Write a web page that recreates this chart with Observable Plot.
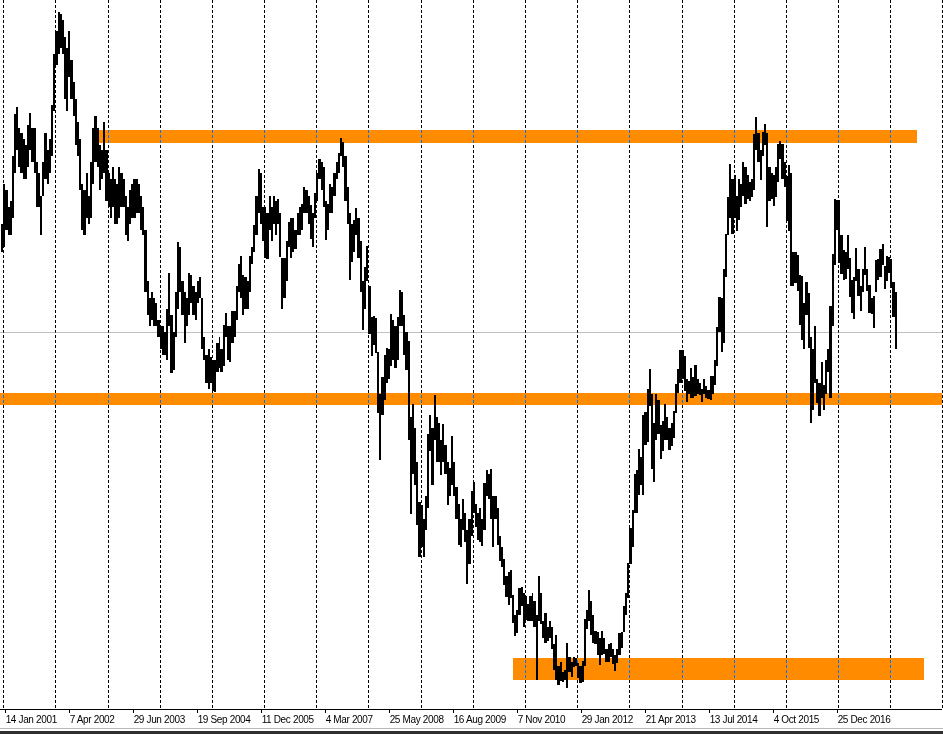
<!DOCTYPE html>
<html>
<head>
<meta charset="utf-8">
<script src="https://cdn.jsdelivr.net/npm/d3@7"></script>
<script src="https://cdn.jsdelivr.net/npm/@observablehq/plot@0.6"></script>
<style>
  html, body { margin: 0; padding: 0; background: #fff; overflow: hidden; }
  #chart svg { display: block; }
  #chart svg g[aria-label="x-axis tick label"] text { letter-spacing: -0.35px; }
  #bottom { width: 943px; height: 2px; border-top: 1px solid #b8b8b8; border-bottom: 3px solid #303030; }
</style>
</head>
<body>
<div id="chart"></div>
<div id="bottom"></div>
<script>
// USD/JPY, half-month bars (1st-15th, 16th-end), first bar = second half of Dec 2000
const lows = [
  114.0,
  // 2001
  114.5,116.0,115.5,115.5,117.0,121.0,123.0,121.5,121.0,120.5,120.5,121.5,123.0,122.0,121.0,118.0,118.0,115.5,119.0,120.5,120.0,121.0,122.5,126.5,
  // 2002
  130.5,131.5,132.0,131.5,127.5,126.5,129.5,127.5,126.0,123.5,122.5,119.5,116.0,115.5,117.0,116.5,117.0,120.0,122.0,121.5,119.5,120.5,121.0,118.5,
  // 2003
  118.0,117.0,118.0,116.5,116.5,117.0,118.0,118.0,115.5,115.0,116.5,117.0,117.0,117.5,117.5,116.0,115.5,110.5,108.5,107.5,108.0,107.5,107.5,106.5,
  // 2004
  105.5,105.0,105.0,104.5,107.5,103.4,103.6,106.5,109.0,110.5,108.5,106.0,107.5,108.5,109.5,108.5,108.0,109.5,110.0,105.5,104.5,102.5,102.0,102.5,
  // 2005
  101.8,101.7,103.5,103.8,103.5,104.0,106.5,104.5,104.3,106.0,106.5,108.0,110.5,110.0,108.5,109.0,109.0,110.5,113.0,114.0,115.5,117.5,116.5,115.0,
  // 2006
  113.5,113.4,116.0,115.0,116.5,115.5,116.5,113.6,109.0,110.0,111.5,114.5,113.5,114.0,114.3,115.5,115.5,116.0,117.5,117.5,116.5,115.2,114.5,117.0,
  // 2007
  118.5,120.5,119.5,118.0,115.1,116.0,117.5,117.5,119.0,120.5,121.0,122.5,121.5,118.5,116.5,111.6,113.2,114.0,115.5,113.5,110.5,107.2,109.0,111.5,
  // 2008
  106.8,104.9,105.8,105.1,99.8,95.7,99.7,101.0,102.5,102.8,104.0,104.5,103.8,104.5,107.5,107.5,105.0,103.6,97.5,90.9,94.5,93.5,90.0,87.1,
  // 2009
  88.0,87.1,89.5,91.5,96.5,93.5,97.5,95.5,95.5,94.4,95.5,94.5,91.7,92.5,93.5,92.5,90.5,88.2,88.0,89.5,88.5,84.8,86.5,89.0,
  // 2010
  91.0,89.8,88.6,88.5,88.1,89.5,92.5,92.3,90.5,88.0,90.5,88.2,86.8,86.3,84.7,83.6,82.9,83.5,81.3,80.2,80.4,82.0,82.8,81.0,
  // 2011
  81.6,81.5,81.5,81.5,81.0,76.3,81.5,81.2,80.0,79.6,79.7,80.0,79.0,77.2,76.3,75.9,76.2,76.1,76.3,75.6,77.0,76.6,77.4,77.5,
  // 2012
  76.5,76.0,76.1,77.5,80.8,81.5,80.3,79.6,79.5,78.5,77.6,78.5,78.6,77.9,77.9,78.3,77.7,77.1,77.8,78.5,79.1,80.5,82.0,83.5,
  // 2013
  86.5,88.0,91.0,91.0,92.6,93.5,92.6,97.0,97.3,100.5,94.9,93.8,97.5,98.0,95.8,96.5,97.5,97.5,96.6,96.9,97.6,99.8,101.6,102.5,
  // 2014
  102.8,101.8,100.8,101.5,101.2,101.2,101.3,101.5,101.4,100.8,101.5,101.2,101.1,101.0,101.5,102.3,104.0,107.0,105.2,106.0,111.8,115.5,117.0,115.6,
  // 2015
  117.0,115.9,116.9,118.0,119.0,118.3,118.7,118.5,118.9,119.5,123.0,122.0,120.4,122.5,123.5,116.2,118.5,118.7,118.1,118.9,120.2,122.2,120.5,119.8,
  // 2016
  116.8,115.9,111.0,111.0,111.3,110.6,107.6,106.3,105.5,108.5,105.6,99.0,100.1,102.5,100.7,99.6,101.2,100.1,101.5,103.5,101.2,107.5,112.9,116.0,
  // 2017
  113.1,112.1,111.6,111.7,112.5,110.1,108.7,108.1,111.5,110.2,108.8,110.5,112.0,110.6,108.7,108.6,107.3,110.5,111.6,111.8,112.9,110.8,111.5,112.2,
  // 2018
  110.9,108.3,105.5
];
const highs = [
  116.5,
  // 2001
  120.0,119.5,118.0,118.5,122.5,126.2,126.8,125.0,124.5,124.0,123.5,125.2,126.3,125.0,125.0,122.0,121.0,119.0,122.0,124.5,123.0,124.0,127.0,131.5,
  // 2002
  133.5,135.2,135.0,134.5,133.0,132.0,133.5,131.0,129.0,127.5,125.5,124.0,120.0,119.5,121.0,119.0,122.0,125.0,126.0,125.0,123.5,123.0,125.5,123.0,
  // 2003
  121.0,120.5,121.5,120.5,120.0,121.5,121.0,120.5,119.0,118.0,119.5,120.0,120.5,120.5,120.0,119.0,118.0,116.0,111.5,110.0,110.5,110.0,109.5,108.0,
  // 2004
  107.5,107.5,107.0,109.0,112.2,108.5,107.0,110.5,114.9,114.5,111.5,110.5,110.0,112.2,112.0,111.0,110.5,111.5,111.8,110.0,106.5,105.0,105.5,104.8,
  // 2005
  104.5,104.5,106.0,106.5,105.5,107.6,108.7,107.5,107.5,108.8,108.8,111.0,113.0,113.7,112.0,111.8,111.5,113.7,114.5,116.4,119.0,121.4,121.0,118.0,
  // 2006
  118.0,117.5,119.0,118.0,119.0,118.5,118.7,117.5,113.5,113.5,115.0,116.7,117.0,117.0,116.0,117.5,118.0,118.3,119.8,119.5,119.0,118.2,117.5,119.2,
  // 2007
  121.0,122.2,122.0,121.5,118.5,118.3,120.0,119.8,121.0,122.0,122.8,124.1,123.7,122.5,119.8,117.5,116.5,116.9,117.9,117.0,115.0,111.5,112.7,114.6,
  // 2008
  111.0,108.3,108.4,108.2,105.2,101.5,103.0,105.0,105.6,105.5,108.6,108.0,107.5,108.3,110.7,110.5,108.5,107.0,106.2,99.5,100.6,98.5,95.5,92.0,
  // 2009
  91.7,90.5,92.5,98.0,99.7,98.5,101.4,99.5,99.0,97.5,98.9,97.0,95.5,95.0,97.8,95.5,93.3,91.8,90.5,92.3,91.0,89.5,90.5,93.0,
  // 2010
  93.8,91.8,91.0,91.5,90.5,93.7,94.8,94.5,94.9,92.5,92.5,91.5,89.0,88.0,87.0,85.5,85.8,86.0,83.8,82.0,82.5,84.4,84.5,84.0,
  // 2011
  83.7,83.0,83.7,84.0,83.3,82.0,85.5,84.0,81.5,82.2,81.0,81.5,81.0,79.5,80.3,77.5,77.9,77.0,77.2,79.6,78.3,77.9,78.3,78.2,
  // 2012
  77.8,77.5,78.0,81.7,82.5,84.2,83.3,82.0,80.6,80.5,80.0,80.6,80.0,79.0,79.5,79.6,79.0,78.5,79.0,80.4,80.5,82.8,84.0,86.6,
  // 2013
  89.7,91.3,94.5,94.8,96.7,96.0,99.7,99.9,102.0,103.7,101.5,99.0,101.5,101.0,98.8,99.1,100.6,99.5,98.5,99.0,100.0,102.4,103.7,105.4,
  // 2014
  105.4,104.9,102.8,102.7,103.8,103.0,104.1,102.8,102.5,102.0,102.8,102.2,101.9,103.1,103.1,104.5,107.4,110.1,110.0,112.5,115.6,118.9,121.8,120.5,
  // 2015
  120.8,119.0,120.5,120.0,122.0,121.5,120.8,120.2,120.5,124.4,125.9,124.5,123.0,124.6,125.3,124.5,121.5,121.0,120.8,121.5,123.6,123.8,123.6,122.0,
  // 2016
  120.7,121.7,121.0,114.0,114.0,113.8,112.0,111.9,109.5,111.4,110.4,106.5,105.5,107.5,102.8,102.5,104.3,102.3,104.5,105.5,109.3,113.9,118.7,118.6,
  // 2017
  118.6,115.5,114.2,114.0,115.5,113.5,111.6,111.8,114.4,112.5,111.0,112.5,114.5,112.5,111.1,110.0,110.2,113.3,113.4,114.3,114.7,112.8,113.7,113.6,
  // 2018
  113.4,111.4,110.5
];

// x-axis tick dates and their labels
const tickDates = ["2001-01-14","2002-04-07","2003-06-29","2004-09-19","2005-12-11","2007-03-04","2008-05-25",
                   "2009-08-16","2010-11-07","2012-01-29","2013-04-21","2014-07-13","2015-10-04","2016-12-25"];
const tickLabels = ["14 Jan 2001","7 Apr 2002","29 Jun 2003","19 Sep 2004","11 Dec 2005","4 Mar 2007","25 May 2008",
                    "16 Aug 2009","7 Nov 2010","29 Jan 2012","21 Apr 2013","13 Jul 2014","4 Oct 2015","25 Dec 2016"];

// vertical grid (one per year)
const gridDates = ["2001-01-01","2002-01-01","2003-01-01","2004-01-01","2005-01-01","2006-01-01","2007-01-01",
                   "2008-01-01","2009-01-01","2010-01-01","2011-01-01","2012-01-01","2013-01-01","2014-01-01",
                   "2015-01-01","2016-01-01","2017-01-01","2018-01-01","2019-01-01"];

// horizontal support / resistance zones
const zoneStart = ["2002-10-20", "2000-12-09", "2010-10-07"];
const zoneEnd   = ["2018-07-05", "2018-12-29", "2018-08-25"];
const zoneLow   = [123.65, 100.53, 76.34];
const zoneHigh  = [124.80, 101.59, 78.24];

const bidPrice = 107.0;
const xDomain = ["2000-12-09", "2018-12-29"];
const yDomain = [73.74, 136.26];

// build tables
const bars = lows.map((lo, i) => {
  const k = i + 23; // half-months counted from Jan 2000 (first bar is Dec 2000, 2nd half)
  const yr = 2000 + Math.floor(k / 24), mo = Math.floor((k % 24) / 2), h = k % 2;
  const start = new Date(Date.UTC(yr, mo, h ? 16 : 1));
  const end = h ? new Date(Date.UTC(yr, mo + 1, 1)) : new Date(Date.UTC(yr, mo, 16));
  return {start, end, lo, hi: highs[i]};
});
const zones = zoneStart.map((s, i) => ({x1: new Date(s), x2: new Date(zoneEnd[i]), y1: zoneLow[i], y2: zoneHigh[i]}));
const ticks = tickDates.map(d => new Date(d));
const labelMap = new Map(ticks.map((d, i) => [+d, tickLabels[i]]));
const grid = gridDates.map(d => new Date(d));

const chart = Plot.plot({
  width: 943,
  height: 728,
  marginTop: 0,
  marginLeft: 0,
  marginRight: 1,
  marginBottom: 19,
  style: {background: "#fff", fontFamily: "'Liberation Sans', Arial, sans-serif", fontSize: "10px", color: "#000"},
  x: {type: "utc", domain: xDomain.map(d => new Date(d)), axis: null},
  y: {domain: yDomain, axis: null},
  marks: [
    Plot.frame({fill: "#fff", stroke: null}),
    Plot.ruleY([bidPrice], {stroke: "#c0c0c0", strokeWidth: 1, shapeRendering: "crispEdges"}),
    Plot.rect(zones, {x1: "x1", x2: "x2", y1: "y1", y2: "y2", fill: "#ff8c00", shapeRendering: "crispEdges"}),
    Plot.ruleX(grid, {x: d => d, stroke: "#fff", strokeDasharray: "3,2", mixBlendMode: "difference", shapeRendering: "crispEdges"}),
    Plot.rect(bars, {x1: "start", x2: "end", y1: "lo", y2: "hi", fill: "#000", clip: true, shapeRendering: "crispEdges"}),
    Plot.ruleY([yDomain[0]], {stroke: "#000", shapeRendering: "crispEdges"}),
    Plot.axisX(ticks, {
      anchor: "bottom",
      tickSize: 4,
      tickPadding: 2,
      textAnchor: "start",
      tickFormat: d => labelMap.get(+d),
      fontSize: 10,
      label: null,
      shapeRendering: "crispEdges"
    })
  ]
});
document.getElementById("chart").appendChild(chart);
</script>
</body>
</html>
